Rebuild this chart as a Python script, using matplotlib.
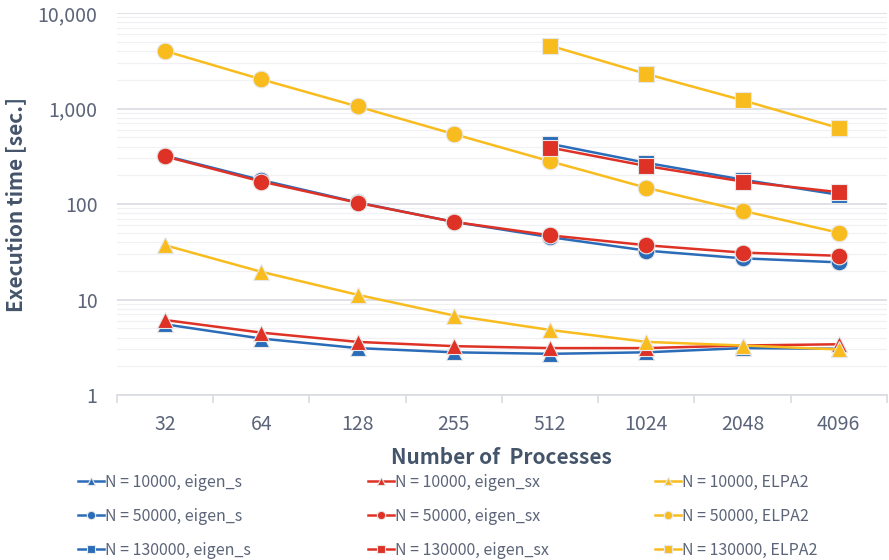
import matplotlib
matplotlib.use('Agg')
import matplotlib.pyplot as plt
import numpy as np
from matplotlib.ticker import FixedLocator, FuncFormatter, NullFormatter

plt.rcParams['font.family'] = ['Noto Sans CJK JP', 'DejaVu Sans']

# Process counts (categorical axis)
procs = ['32', '64', '128', '255', '512', '1024', '2048', '4096']

# Execution times [sec.]
n10k_eigen_s = [5.5, 3.9, 3.1, 2.8, 2.7, 2.8, 3.1, 3.05]
n10k_eigen_sx = [6.1, 4.5, 3.6, 3.25, 3.1, 3.1, 3.3, 3.4]
n10k_elpa2 = [37, 19.5, 11.2, 6.8, 4.8, 3.6, 3.3, 3.0]

n50k_eigen_s = [320, 178, 104, 65, 45, 32.5, 27, 24.5]
n50k_eigen_sx = [315, 172, 103, 65, 47, 37, 31, 28.7]
n50k_elpa2 = [4000, 2020, 1050, 540, 280, 148, 85, 50]

# N = 130000 only measured from 512 processes on
n130k_eigen_s = [None, None, None, None, 427, 270, 180, 125]
n130k_eigen_sx = [None, None, None, None, 390, 250, 172, 133]
n130k_elpa2 = [None, None, None, None, 4550, 2300, 1220, 625]

BLUE = '#2B6CB8'
RED = '#DE3226'
YELLOW = '#F9BC1E'
TEXT = '#44546A'
TICK = '#5B6478'

series = [
    (n10k_eigen_s, BLUE, '^', 'N = 10000, eigen_s'),
    (n10k_eigen_sx, RED, '^', 'N = 10000, eigen_sx'),
    (n10k_elpa2, YELLOW, '^', 'N = 10000, ELPA2'),
    (n50k_eigen_s, BLUE, 'o', 'N = 50000, eigen_s'),
    (n50k_eigen_sx, RED, 'o', 'N = 50000, eigen_sx'),
    (n50k_elpa2, YELLOW, 'o', 'N = 50000, ELPA2'),
    (n130k_eigen_s, BLUE, 's', 'N = 130000, eigen_s'),
    (n130k_eigen_sx, RED, 's', 'N = 130000, eigen_sx'),
    (n130k_elpa2, YELLOW, 's', 'N = 130000, ELPA2'),
]

fig = plt.figure(figsize=(8.89, 5.6), dpi=100)
ax = fig.add_axes([0.1316, 0.2946, 0.866, 0.6822])

x = np.arange(len(procs))
sizes = {'^': 11, 'o': 12, 's': 11}
handles = []
for vals, color, marker, label in series:
    y = np.array([np.nan if v is None else v for v in vals], dtype=float)
    line, = ax.plot(x, y, color=color, lw=1.8, marker=marker, markersize=sizes[marker],
                    markerfacecolor=color, markeredgecolor='#E8E8E8', markeredgewidth=0.8,
                    label=label, zorder=3)
    handles.append(line)

ax.set_yscale('log')
ax.set_ylim(1, 10000)
ax.set_xlim(-0.5, len(procs) - 0.5)

ax.yaxis.set_major_formatter(FuncFormatter(lambda v, p: f'{v:,.0f}'))
ax.yaxis.set_minor_formatter(NullFormatter())
ax.grid(True, which='major', axis='y', color='#D9DCE3', lw=1.2, zorder=0)
ax.grid(True, which='minor', axis='y', color='#F0F1F4', lw=0.9, zorder=0)
ax.tick_params(axis='y', which='both', length=0, labelsize=14, labelcolor=TICK, pad=14)

ax.set_xticks(x)
ax.set_xticklabels(procs)
ax.xaxis.set_minor_locator(FixedLocator(np.arange(-0.5, len(procs), 1.0)))
ax.tick_params(axis='x', which='major', length=0, labelsize=14, labelcolor=TICK, pad=14)
ax.tick_params(axis='x', which='minor', length=6, color='#D9DCE3', width=1.2)

for side in ['top', 'right', 'left']:
    ax.spines[side].set_visible(False)
ax.spines['bottom'].set_color('#D9DCE3')
ax.spines['bottom'].set_linewidth(1.2)

ax.set_ylabel('Execution time [sec.]', fontsize=15, fontweight='bold', color=TEXT, labelpad=8)
ax.set_xlabel('Number of  Processes', fontsize=15, fontweight='bold', color=TEXT, labelpad=8)

# one legend per solver column
col_x = [78, 368, 655]
for k in range(3):
    col = [handles[k], handles[k + 3], handles[k + 6]]
    fig.legend(col, [h.get_label() for h in col],
               loc='upper left', bbox_to_anchor=(col_x[k] / 889, 1 - 474 / 560),
               frameon=False, fontsize=11.5, labelcolor=TICK, markerscale=0.5,
               handlelength=1.6, handletextpad=0.1, labelspacing=1.05,
               borderpad=0, borderaxespad=0)

fig.savefig('out.png', dpi=100)
